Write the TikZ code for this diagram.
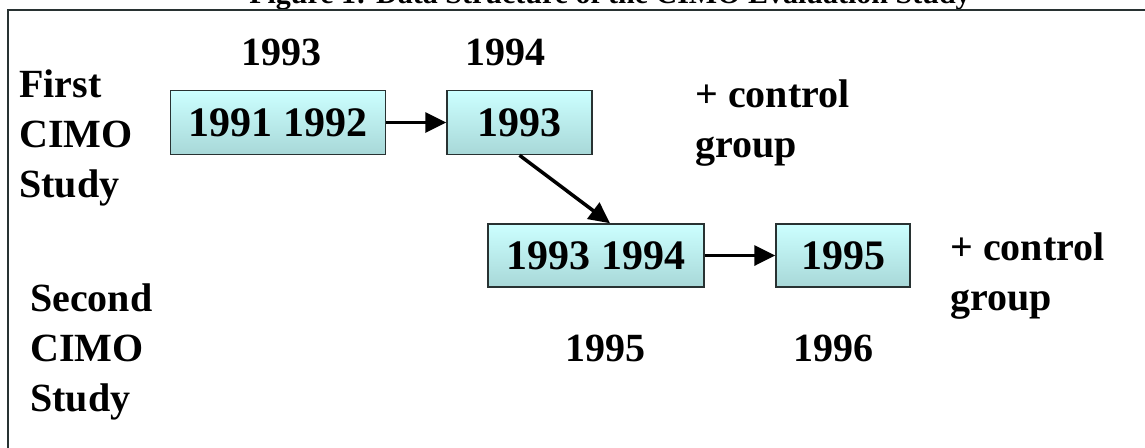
\documentclass[tikz,border=0pt]{standalone}
\usepackage{fontspec}
\setmainfont{Liberation Serif}
\usetikzlibrary{arrows.meta}
\definecolor{boxtop}{RGB}{204,255,255}
\definecolor{boxbottom}{RGB}{168,216,216}
\definecolor{boxline}{RGB}{40,50,50}
\begin{document}
\begin{tikzpicture}[x=1pt,y=-1pt,
    yearbox/.style={draw=boxline,line width=1.5pt,top color=boxtop,bottom color=boxbottom,
      minimum height=64pt,inner sep=0pt,font=\bfseries\fontsize{42}{48}\selectfont},
    lbl/.style={inner sep=0pt,font=\bfseries\fontsize{40}{50}\selectfont,align=left},
    flow/.style={line width=3.5pt,-{Triangle[length=21pt,width=20pt]}}]
    \clip (0,0) rectangle (1145,447);
    \useasboundingbox (0,0) rectangle (1145,447);
    % caption, cut off at the top of the page
    \node[inner sep=0pt,anchor=base,font=\bfseries\fontsize{30}{30}\selectfont] (caption) at (610,4) {Figure 1: Data Structure of the CIMO Evaluation Study};
    \draw[line width=1.5pt,boxline] (8,460) -- (8,10) -- (1160,10);
    % first study
    \node[lbl,anchor=west] (first) at (19,138) {First\\CIMO\\Study};
    \node[yearbox,minimum width=215pt] (a) at (278,122.5) {1991 1992};
    \node[yearbox,minimum width=145pt] (b) at (519.5,122.5) {1993};
    \node[lbl] (ya) at (281,52) {1993};
    \node[lbl] (yb) at (505,52) {1994};
    \node[lbl,anchor=west] (ctla) at (695,123) {+ control\\group};
    % second study
    \node[lbl,anchor=west] (second) at (30,352) {Second\\CIMO\\Study};
    \node[yearbox,minimum width=216pt,minimum height=63pt] (c) at (596,255.5) {1993 1994};
    \node[yearbox,minimum width=134pt,minimum height=63pt] (d) at (843,255.5) {1995};
    \node[lbl] (yc) at (605,348) {1995};
    \node[lbl] (yd) at (833,348) {1996};
    \node[lbl,anchor=west] (ctlb) at (950,276) {+ control\\group};
    \draw[flow] (a) -- (b);
    \draw[flow] (b.south) -- ([xshift=14pt]c.north);
    \draw[flow] (c) -- (d);
\end{tikzpicture}
\end{document}
